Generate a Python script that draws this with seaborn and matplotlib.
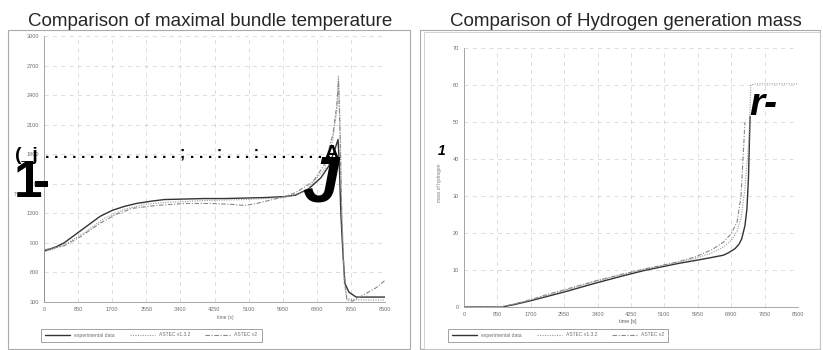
import numpy as np
import pandas as pd
import seaborn as sns
import matplotlib.pyplot as plt
from matplotlib.patches import Rectangle

# Left chart: maximal bundle temperature
t_exp_T = [0, 0, 100, 300, 500, 800, 1000, 1400, 1700, 2000, 2300, 2700, 3000, 3500, 4000, 4500,
           5000, 5500, 6000, 6275, 6600, 6900, 7100, 7250, 7330, 7360, 7400, 7450, 7500, 7600,
           7780, 8100, 8500]
T_exp = [300, 820, 830, 860, 900, 990, 1050, 1170, 1230, 1270, 1300, 1325, 1340, 1345, 1350, 1350,
         1355, 1360, 1370, 1385, 1450, 1560, 1680, 1850, 1950, 1700, 1200, 800, 490, 400,
         350, 350, 350]

t_v132_T = [0, 0, 200, 500, 1000, 1500, 2000, 2500, 3000, 4000, 5000, 6000, 6500, 7000, 7200,
            7300, 7340, 7380, 7420, 7480, 7550, 8000, 8500]
T_v132 = [300, 810, 830, 880, 1000, 1150, 1240, 1290, 1310, 1330, 1340, 1360, 1420, 1650, 1950,
          2250, 2600, 2100, 1300, 500, 330, 320, 320]

t_v2_T = [0, 0, 200, 500, 900, 1400, 1800, 2200, 2800, 3500, 4200, 4700, 5000, 5300, 5600, 6000,
          6275, 6700, 7000, 7200, 7300, 7340, 7380, 7420, 7480, 7550, 7700, 8000, 8300, 8500]
T_v2 = [300, 830, 845, 870, 960, 1100, 1190, 1250, 1280, 1300, 1300, 1290, 1280, 1300, 1330, 1370,
        1410, 1520, 1700, 2000, 2300, 2550, 2000, 1200, 600, 320, 310, 380, 450, 520]

# Right chart: hydrogen generation mass
t_exp_H = [0, 500, 970, 1300, 1700, 2060, 2600, 3330, 4000, 4600, 5100, 5470, 5900, 6310, 6600,
           6740, 6900, 7000, 7070, 7150, 7200, 7240, 7280]
H_exp = [0, 0, 0, 0.7, 1.7, 2.7, 4.2, 6.4, 8.3, 9.9, 11.0, 11.8, 12.6, 13.4, 14.0,
         14.7, 15.8, 17.0, 18.5, 22, 26.5, 35, 51.5]

t_v132_H = [0, 500, 970, 1500, 2000, 2600, 3300, 4000, 4600, 5100, 5500, 5900, 6300, 6600, 6800,
            6950, 7050, 7150, 7250, 7300, 7400, 8000, 8500]
H_v132 = [0, 0, 0.1, 1.3, 2.8, 4.6, 6.8, 8.7, 10.2, 11.3, 12.2, 13.2, 14.6, 16.2, 18,
          20.5, 24, 32, 45, 60, 60.3, 60.3, 60.3]

t_v2_H = [0, 500, 970, 1300, 1700, 2060, 2600, 3330, 4000, 4600, 5100, 5470, 5900, 6310, 6600,
          6800, 6950, 7050, 7100, 7150]
H_v2 = [0, 0, 0.1, 0.9, 2.0, 3.2, 4.8, 7.0, 8.8, 10.3, 11.4, 12.3, 13.6, 15.5, 17.5,
        19.8, 23, 30, 40, 50]

x_ticks = [0, 850, 1700, 2550, 3400, 4250, 5100, 5950, 6800, 7650, 8500]
T_ticks = [300, 600, 900, 1200, 1500, 1800, 2100, 2400, 2700, 3000]
H_ticks = [0, 10, 20, 30, 40, 50, 60, 70]
series_names = ["experimental data", "ASTEC v1.3.2", "ASTEC v2"]

sns.set_style("white")
plt.rcParams['font.family'] = ['Liberation Sans', 'DejaVu Sans']

W, H = 823, 350
fig = plt.figure(figsize=(W / 100, H / 100), dpi=100)

def px_axes(x0, y0, x1, y1):
    return fig.add_axes([x0 / W, 1 - y1 / H, (x1 - x0) / W, (y1 - y0) / H])

# chart area frames
fig.patches.append(Rectangle((8 / W, 0.002), 402 / W, 1 - 30 / H - 0.002, transform=fig.transFigure,
                             fill=False, ec="#aaaaaa", lw=0.8))
fig.patches.append(Rectangle((420 / W, 0.002), 400 / W, 1 - 30 / H - 0.002, transform=fig.transFigure,
                             fill=False, ec="#aaaaaa", lw=0.8))
fig.patches.append(Rectangle((424 / W, 0.002), 396 / W, 1 - 32 / H - 0.002, transform=fig.transFigure,
                             fill=False, ec="#cccccc", lw=0.6))

styles = {"experimental data": dict(color="#333333", lw=1.0, ls="-"),
          "ASTEC v1.3.2": dict(color="#999999", lw=0.8, ls=(0, (1, 1.2))),
          "ASTEC v2": dict(color="#888888", lw=0.8, ls=(0, (4, 1.5, 1, 1.5)))}

def draw(ax, data, yticks, ylim):
    for name, (tt, vv) in zip(series_names, data):
        df = pd.DataFrame({"time": tt, "value": vv})
        sns.lineplot(data=df, x="time", y="value", ax=ax, sort=False, estimator=None,
                     label=name, **styles[name])
    ax.set_xlim(0, 8500)
    ax.set_ylim(*ylim)
    ax.set_xticks(x_ticks)
    ax.set_yticks(yticks)
    ax.tick_params(labelsize=4, labelcolor="#707070", length=1.5, width=0.4, color="#bbbbbb", pad=2)
    ax.grid(True, color="#d0d0d0", lw=0.5, ls=(0, (6, 6)))
    for s in ["top", "right"]:
        ax.spines[s].set_visible(False)
    for s in ["left", "bottom"]:
        ax.spines[s].set_color("#999999")
        ax.spines[s].set_linewidth(0.6)
    ax.set_xlabel("")
    ax.set_ylabel("")

axL = px_axes(44, 36, 385, 302)
draw(axL, [(t_exp_T, T_exp), (t_v132_T, T_v132), (t_v2_T, T_v2)], T_ticks, (300, 3000))
axR = px_axes(464, 48, 798, 307)
draw(axR, [(t_exp_H, H_exp), (t_v132_H, H_v132), (t_v2_H, H_v2)], H_ticks, (0, 70))

for ax, box in [(axL, (45, 327, 258, 343)), (axR, (447, 327, 669, 343))]:
    leg = ax.legend(loc="center", bbox_to_anchor=((box[0] + box[2]) / 2 / W, 1 - (box[1] + box[3]) / 2 / H),
                    bbox_transform=fig.transFigure, ncol=3, fontsize=3.6, frameon=True,
                    handlelength=5, columnspacing=3, borderpad=0.8, fancybox=False)
    leg.get_frame().set_edgecolor("#777777")
    leg.get_frame().set_linewidth(0.6)
    for txt in leg.get_texts():
        txt.set_color("#707070")

# titles and axis texts
fig.text(210 / W, 1 - 26 / H, "Comparison of maximal bundle temperature", ha="center", va="baseline", fontsize=13.5)
fig.text(626 / W, 1 - 26 / H, "Comparison of Hydrogen generation mass", ha="center", va="baseline", fontsize=13.5)
fig.text(225 / W, 1 - 317 / H, "time (s)", ha="center", va="center", fontsize=3.6, color="#707070")
fig.text(628 / W, 1 - 322 / H, "time [s]", ha="center", va="center", fontsize=4, color="#606060")
fig.text(16 / W, 1 - 194 / H, "T°", ha="center", va="center", fontsize=3.4, color="#777777")
fig.text(440 / W, 1 - 183 / H, "mass of hydrogen", ha="center", va="center", fontsize=3.4,
         color="#777777", rotation=90)

# OCR leftovers printed over the scan
fig.text(15 / W, 1 - 160 / H, "(_j", fontsize=14, fontweight="bold", va="baseline", color="black")
dots = ". " * 15 + "; " + ". " * 3 + ": " + ". " * 3 + ": " + ". " * 8
fig.text(45 / W, 1 - 157 / H, dots, fontsize=11.5, fontweight="bold", va="baseline", color="black")
fig.text(325 / W, 1 - 158 / H, "A", fontsize=14, fontweight="bold", va="baseline", color="black")
fig.text(14 / W, 1 - 197 / H, "1", fontsize=37, fontweight="bold", va="baseline", color="black")
fig.text(33 / W, 1 - 197 / H, "-", fontsize=37, fontweight="bold", va="baseline", color="black")
fig.text(302 / W, 1 - 202 / H, "J", fontsize=47, fontweight="bold", style="italic", va="baseline", color="black")
fig.text(749 / W, 1 - 115 / H, "r-", fontsize=28, fontweight="bold", style="italic", va="baseline", color="black")
fig.text(438 / W, 1 - 155 / H, "1", fontsize=10, fontweight="bold", style="italic", va="baseline", color="black")

fig.savefig("out.png", dpi=100)
